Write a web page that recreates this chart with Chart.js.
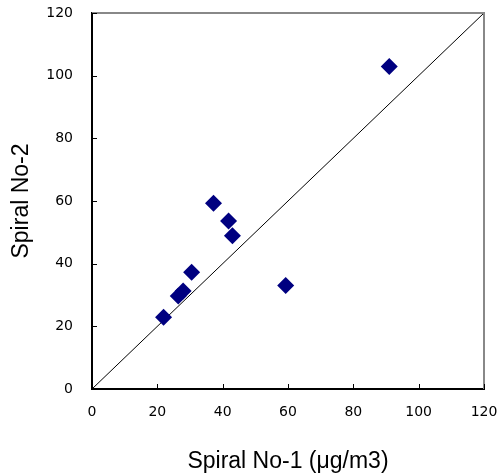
<!DOCTYPE html>
<html>
<head>
<meta charset="utf-8">
<script src="https://cdn.jsdelivr.net/npm/chart.js@4/dist/chart.umd.min.js"></script>
<style>
  html, body { margin: 0; padding: 0; background: #fff; }
  #wrap { width: 499px; height: 476px; }
</style>
</head>
<body>
<div id="wrap"><canvas id="scatter"></canvas></div>
<script>
// Spiral sampler comparison (µg/m3)
const spiral1 = [21.9, 26.4, 27.9, 30.5, 37.2, 41.8, 43.0, 59.3, 91.0];
const spiral2 = [22.9, 29.7, 31.3, 37.3, 59.3, 53.6, 48.9, 33.0, 102.9];
const axisTicks = [0, 20, 40, 60, 80, 100, 120];
const oneToOne = [0, 120];

const points = spiral1.map((x, i) => ({ x, y: spiral2[i] }));
const diagonal = oneToOne.map(v => ({ x: v, y: v }));

// inward tick marks plus grey top/right frame
const framePlugin = {
    id: 'frame',
    afterDraw(chart) {
        const { ctx, chartArea: a, scales } = chart;
        ctx.save();
        ctx.strokeStyle = '#888';
        ctx.lineWidth = 2;
        ctx.beginPath();
        ctx.moveTo(a.left, a.top);
        ctx.lineTo(a.right, a.top);
        ctx.lineTo(a.right, a.bottom);
        ctx.stroke();

        ctx.strokeStyle = '#000';
        ctx.lineWidth = 1;
        ctx.beginPath();
        axisTicks.forEach(t => {
            const px = Math.round(scales.x.getPixelForValue(t)) + 0.5;
            ctx.moveTo(px, a.bottom);
            ctx.lineTo(px, a.bottom - 5);
            const py = Math.round(scales.y.getPixelForValue(t)) + 0.5;
            ctx.moveTo(a.left, py);
            ctx.lineTo(a.left + 5, py);
        });
        ctx.stroke();
        ctx.restore();
    }
};

const tickFont = { family: '"DejaVu Sans"', size: 14 };
const titleFont = { family: '"Liberation Sans"', size: 23 };

// keep tick labels from pushing the plot area inward
function noOverflow(s) {
    s.paddingTop = 0;
    s.paddingBottom = 0;
    s.paddingLeft = 0;
    s.paddingRight = 0;
}

new Chart(document.getElementById('scatter'), {
    type: 'scatter',
    data: {
        datasets: [
            {
                data: points,
                pointStyle: 'rectRot',
                pointRadius: 8.5,
                pointHoverRadius: 8.5,
                backgroundColor: '#000080',
                borderColor: '#000080',
                borderWidth: 0
            },
            {
                type: 'line',
                data: diagonal,
                borderColor: '#000',
                borderWidth: 1,
                pointRadius: 0,
                fill: false
            }
        ]
    },
    options: {
        responsive: true,
        maintainAspectRatio: false,
        animation: false,
        layout: { padding: { top: 13, right: 15, left: 0, bottom: 0 } },
        plugins: { legend: { display: false }, tooltip: { enabled: false } },
        scales: {
            x: {
                type: 'linear',
                min: 0,
                max: 120,
                afterBuildTicks: s => { s.ticks = axisTicks.map(v => ({ value: v })); },
                afterFit: s => { s.height = 87; noOverflow(s); },
                grid: { display: false, drawTicks: false },
                border: { color: '#000', width: 2 },
                ticks: { color: '#000', font: tickFont, padding: 15 },
                title: {
                    display: true,
                    text: 'Spiral No-1 (μg/m3)',
                    color: '#000',
                    font: titleFont,
                    padding: { top: 0, bottom: 1 }
                }
            },
            y: {
                type: 'linear',
                min: 0,
                max: 120,
                afterBuildTicks: s => { s.ticks = axisTicks.map(v => ({ value: v })); },
                afterFit: s => { s.width = 92; noOverflow(s); },
                grid: { display: false, drawTicks: false },
                border: { color: '#000', width: 2 },
                ticks: { color: '#000', font: tickFont, padding: 19 },
                title: {
                    display: true,
                    text: 'Spiral No-2',
                    color: '#000',
                    font: titleFont,
                    padding: { top: 8, bottom: 0 }
                }
            }
        }
    },
    plugins: [framePlugin]
});
</script>
</body>
</html>
